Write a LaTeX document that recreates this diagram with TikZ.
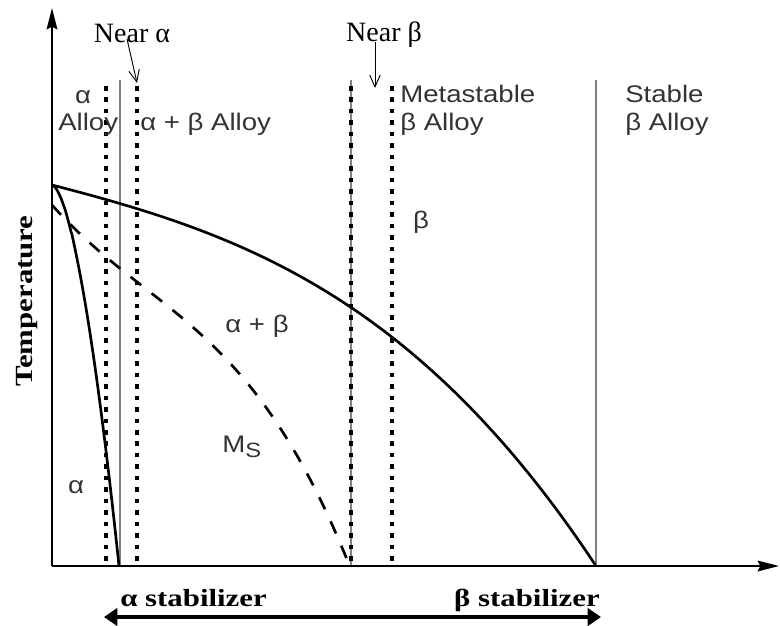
\documentclass[tikz,border=0pt]{standalone}
\usepackage{fontspec}
\setmainfont{Liberation Serif}
\newfontfamily\lsans[FakeStretch=1.15]{Liberation Sans}
\newfontfamily\wserif[FakeStretch=1.25]{Liberation Serif}
\usetikzlibrary{arrows.meta}
\begin{document}
\begin{tikzpicture}[x=0.75pt,y=-0.75pt,
  axis/.style={line width=1.8pt,-{Stealth[length=16pt,width=8pt,inset=2pt]}},
  grayline/.style={line width=1.3pt,draw=black!50},
  dotline/.style={line width=3pt,dash pattern=on 3.4pt off 5.2pt},
  curve/.style={line width=2pt},
  dashcurve/.style={line width=2pt,dash pattern=on 10pt off 10pt},
  lbl/.style={font=\lsans\fontsize{18}{20}\selectfont,text=black!80,inner sep=0pt},
  serlbl/.style={font=\fontsize{21}{24}\selectfont,inner sep=0pt},
  boldlbl/.style={font=\wserif\bfseries\fontsize{18.5}{22}\selectfont,inner sep=0pt},
  thinarrow/.style={line width=0.7pt,-{Straight Barb[length=9pt,width=8pt]}},
  bigarrow/.style={line width=3pt,{Triangle[length=10pt,width=13pt]}-{Triangle[length=10pt,width=13pt]}}
]
\useasboundingbox (0,0) rectangle (780,625);

% coordinates
\coordinate (O) at (52,566);
\coordinate (Ytop) at (52,8);
\coordinate (Xend) at (779,566);

% gray boundary lines
\draw[grayline] (120,80) -- (120,566);
\draw[grayline] (351,80) -- (351,566);
\draw[grayline] (596,80) -- (596,566);

% dotted lines
\draw[dotline] (106,86) -- (106,566);
\draw[dotline] (137,86) -- (137,566);
\draw[dotline] (351,86) -- (351,566);
\draw[dotline] (392,86) -- (392,566);

% beta transus
\draw[curve] plot[domain=0:1,samples=120,variable=\t]
  ({52+544*\t},{185+381*(0.369*\t+0.101*\t*\t+0.530*\t*\t*\t)});
% alpha transus
\draw[curve] (52,185) -- plot[domain=0.004:1,samples=120,variable=\s]
  ({52+67*(\s)^0.6},{185+381*\s});
% Ms
\draw[dashcurve] plot[domain=0:1,samples=120,variable=\t]
  ({52+296*\t},{205+357*(0.932*\t-0.916*\t*\t+0.984*\t*\t*\t)});

% axes
\draw[axis] (O) -- (Ytop);
\draw[axis] (O) -- (Xend);

% region labels
\node[lbl,anchor=base] (la) at (83,103) {α};
\node[lbl,anchor=base west] (lalloy) at (58,130) {Alloy};
\node[lbl,anchor=base west] (lab) at (140,130) {α + β Alloy};
\node[lbl,anchor=base west] (lmeta) at (400,102) {Metastable};
\node[lbl,anchor=base west] (lmetab) at (400,130) {β Alloy};
\node[lbl,anchor=base west] (lstable) at (625,102) {Stable};
\node[lbl,anchor=base west] (lstableb) at (625,130) {β Alloy};

% phase labels
\node[lbl] (pb) at (421,222) {β};
\node[lbl] (pab) at (257,326) {α + β};
\node[lbl,anchor=base west] (pms) at (222,452) {M\raisebox{-4pt}{\fontsize{15.5}{15}\selectfont S}};
\node[lbl] (pa) at (76,487) {α};

% near labels
\node[serlbl] (nearA) at (132,33) {Near α};
\node[serlbl] (nearB) at (384,35) {Near β};
\coordinate (nearAend) at (137,83);
\coordinate (nearBend) at (375,88);
\draw[thinarrow] (127,39) -- (nearAend);
\draw[thinarrow] (375,42) -- (nearBend);

% axis label
\node[boldlbl,rotate=90] (temp) at (27,301) {Temperature};

% stabilizer arrow
\node[boldlbl,anchor=base west] (astab) at (120,606) {α stabilizer};
\node[boldlbl,anchor=base east] (bstab) at (600,606) {β stabilizer};
\coordinate (arrL) at (104,617);
\coordinate (arrR) at (601,617);
\draw[bigarrow] (arrL) -- (arrR);
\end{tikzpicture}
\end{document}
